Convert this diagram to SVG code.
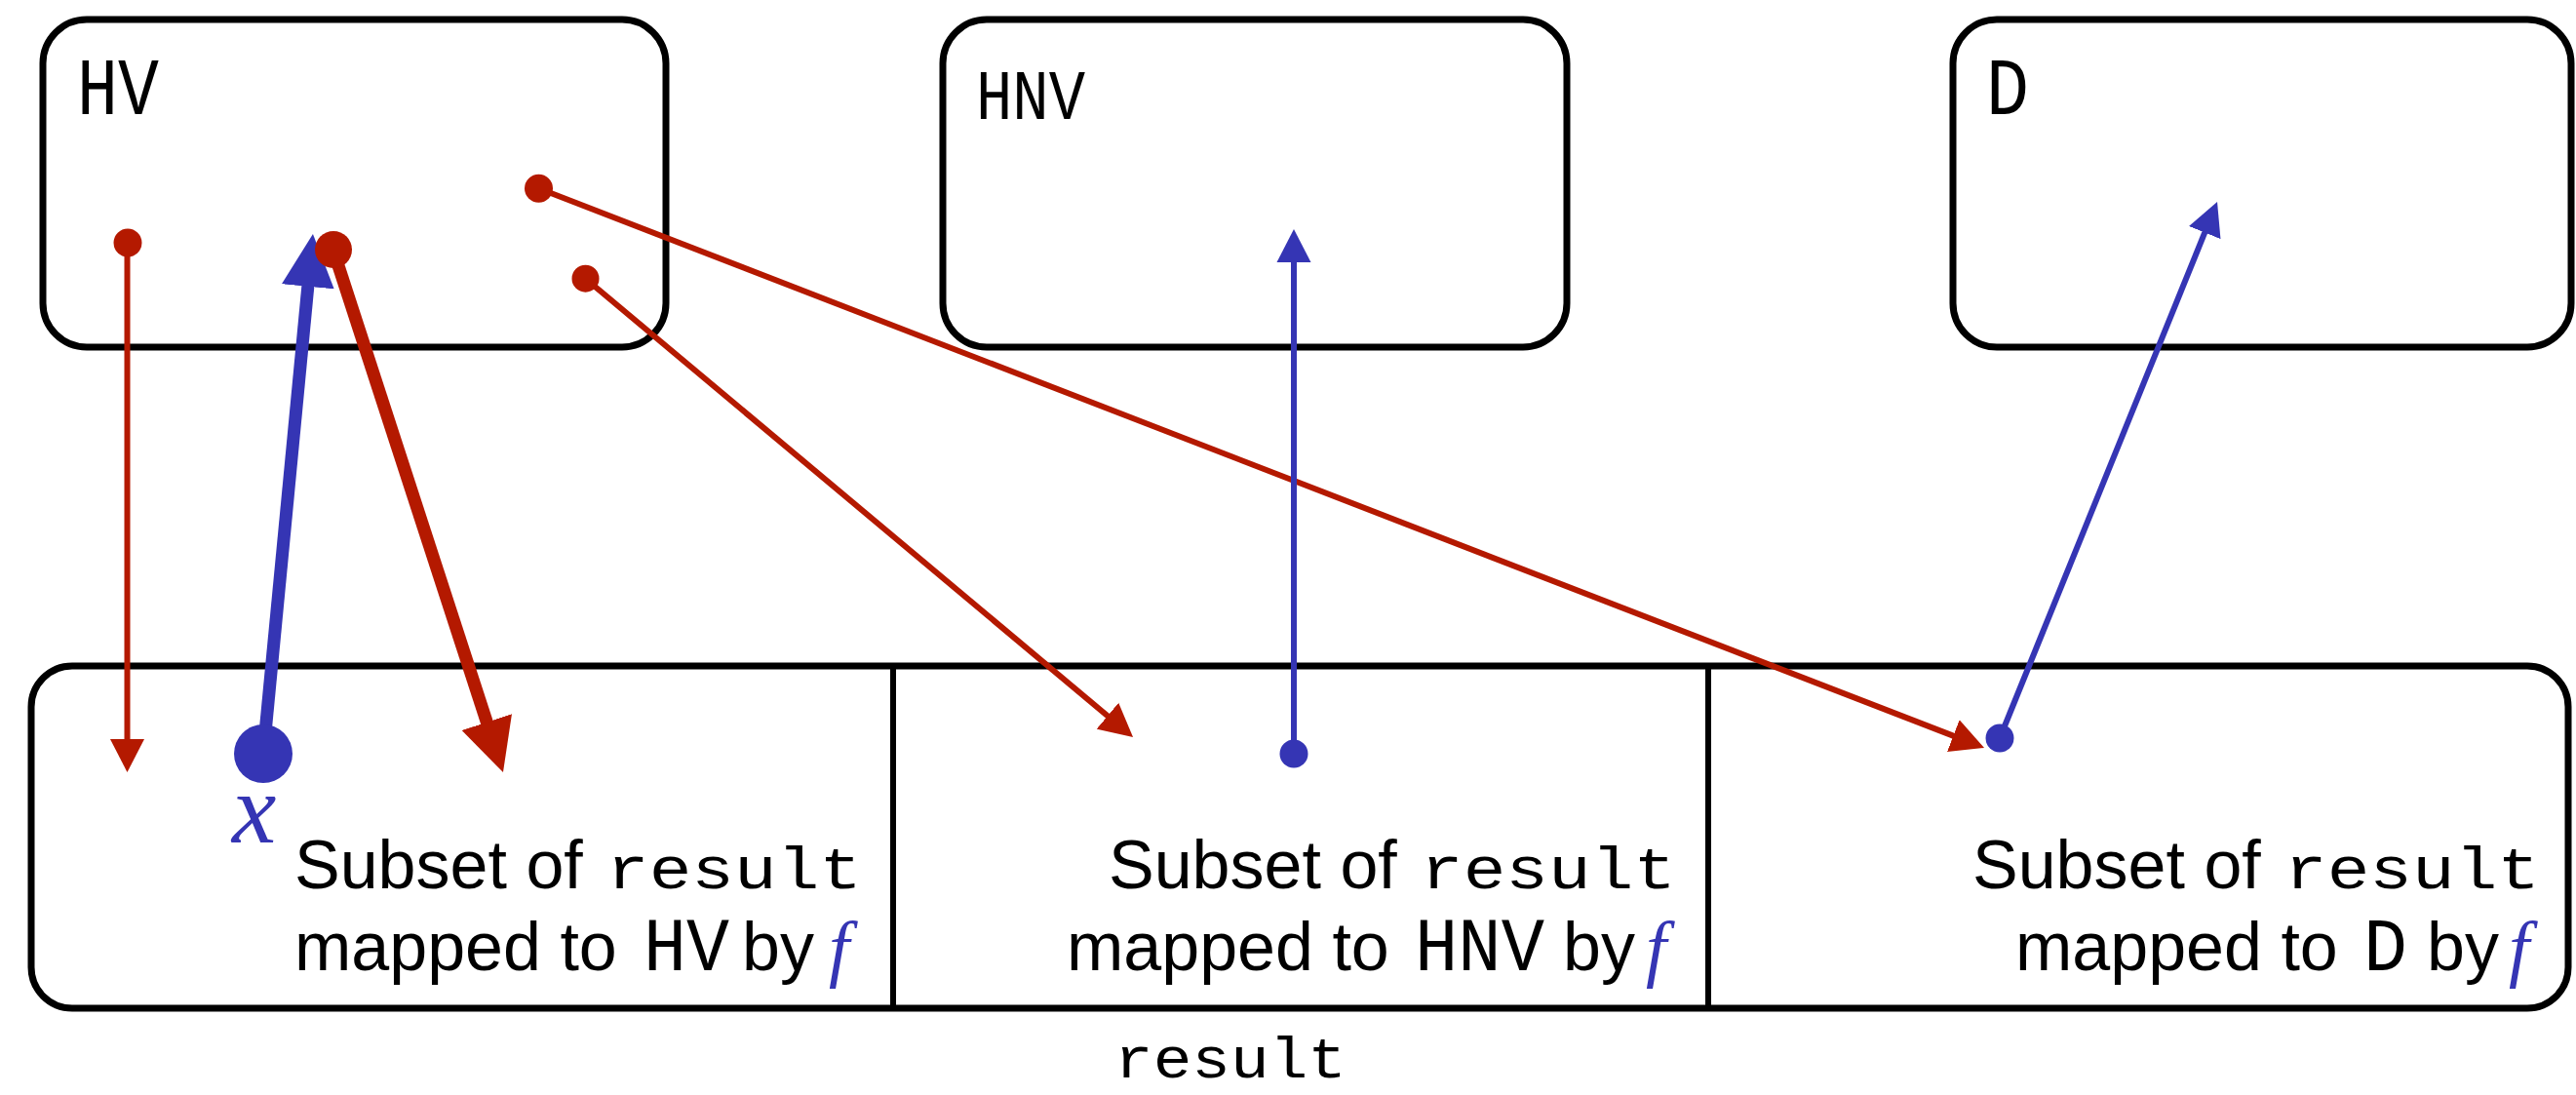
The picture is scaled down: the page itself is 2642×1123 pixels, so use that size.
<svg xmlns="http://www.w3.org/2000/svg" width="2642" height="1123" viewBox="0 0 2642 1123">
<style>
.box{fill:#fff;stroke:#000;stroke-width:7}
.div{stroke:#000;stroke-width:6}
.mono{font-family:"Liberation Mono",monospace;fill:#000}
.sans{font-family:"Liberation Sans",Arial,sans-serif;font-size:70px;fill:#000}
.math{font-family:"Liberation Serif","Times New Roman",serif;font-style:italic;fill:#3535B4}
.red{stroke:#B41900;fill:none}
.blue{stroke:#3535B4;fill:none}
.thin{stroke-width:6}
.thick{stroke-width:13}
.rdot{fill:#B41900}
.bdot{fill:#3535B4}
</style>
<defs>
<marker id="arR" markerUnits="userSpaceOnUse" viewBox="0 -18 36 36" markerWidth="36" markerHeight="36" refX="2" refY="0" orient="auto"><path d="M0,-17.5 L34,0 L0,17.5 z" fill="#B41900"/></marker>
<marker id="arB" markerUnits="userSpaceOnUse" viewBox="0 -18 36 36" markerWidth="36" markerHeight="36" refX="2" refY="0" orient="auto"><path d="M0,-17.5 L34,0 L0,17.5 z" fill="#3535B4"/></marker>
<marker id="arRT" markerUnits="userSpaceOnUse" viewBox="0 -28 56 56" markerWidth="56" markerHeight="56" refX="2" refY="0" orient="auto"><path d="M0,-27 L54,0 L0,27 z" fill="#B41900"/></marker>
<marker id="arBT" markerUnits="userSpaceOnUse" viewBox="0 -28 56 56" markerWidth="56" markerHeight="56" refX="2" refY="0" orient="auto"><path d="M0,-27 L54,0 L0,27 z" fill="#3535B4"/></marker>
</defs>

<g id="HV">
<rect class="box" x="44" y="20" width="639" height="336" rx="45"/>
<text class="mono" x="79" y="117" font-size="84" textLength="84" lengthAdjust="spacingAndGlyphs">HV</text>
</g>
<g id="HNV">
<rect class="box" x="967" y="20" width="640" height="336" rx="45"/>
<text class="mono" x="1001" y="122" font-size="73" textLength="112" lengthAdjust="spacingAndGlyphs">HNV</text>
</g>
<g id="D">
<rect class="box" x="2003" y="20" width="634" height="336" rx="45"/>
<text class="mono" x="2037" y="117" font-size="84" textLength="44" lengthAdjust="spacingAndGlyphs">D</text>
</g>

<g id="result">
<rect class="box" x="32" y="683" width="2602" height="351" rx="42"/>
<line class="div" x1="916" y1="683" x2="916" y2="1034"/>
<line class="div" x1="1752" y1="683" x2="1752" y2="1034"/>
<text class="mono" x="1143" y="1105" font-size="60" textLength="238" lengthAdjust="spacingAndGlyphs">result</text>
</g>

<g id="cellHV">
<text class="sans"><tspan x="302" y="911">Subset of</tspan><tspan class="mono" x="622" y="911" font-size="62" textLength="262" lengthAdjust="spacingAndGlyphs">result</tspan><tspan x="302" y="995">mapped to</tspan><tspan class="mono" x="660" y="995" font-size="77" textLength="88" lengthAdjust="spacingAndGlyphs">HV</tspan><tspan x="761" y="995">by</tspan><tspan class="math" x="850" y="998" font-size="76">f</tspan></text>
<text class="math" x="238" y="864" font-size="102">x</text>
</g>
<g id="cellHNV">
<text class="sans"><tspan x="1137" y="911">Subset of</tspan><tspan class="mono" x="1457" y="911" font-size="62" textLength="262" lengthAdjust="spacingAndGlyphs">result</tspan><tspan x="1094" y="995">mapped to</tspan><tspan class="mono" x="1451" y="995" font-size="77" textLength="133" lengthAdjust="spacingAndGlyphs">HNV</tspan><tspan x="1603" y="995">by</tspan><tspan class="math" x="1688" y="998" font-size="76">f</tspan></text>
</g>
<g id="cellD">
<text class="sans"><tspan x="2023" y="911">Subset of</tspan><tspan class="mono" x="2343" y="911" font-size="62" textLength="262" lengthAdjust="spacingAndGlyphs">result</tspan><tspan x="2067" y="995">mapped to</tspan><tspan class="mono" x="2424" y="995" font-size="77" textLength="45" lengthAdjust="spacingAndGlyphs">D</tspan><tspan x="2489" y="995">by</tspan><tspan class="math" x="2573" y="998" font-size="76">f</tspan></text>
</g>

<g id="connectors">
<path class="red thin" d="M130.5,249 L130.5,760" marker-end="url(#arR)"/>
<circle class="rdot" cx="131" cy="249" r="14.5"/>
<path class="blue thick" d="M270,773 L316,291.8" marker-end="url(#arBT)"/>
<circle class="bdot" cx="270" cy="773" r="30"/>
<path class="red thick" d="M342,257 L499.9,742.6" marker-end="url(#arRT)"/>
<circle class="rdot" cx="342" cy="256" r="19"/>
<path class="red thin" d="M600.5,285.7 L1137.5,735.5" marker-end="url(#arR)"/>
<circle class="rdot" cx="600.5" cy="285.7" r="14"/>
<path class="red thin" d="M552,193 L2005.2,755.4" marker-end="url(#arR)"/>
<circle class="rdot" cx="552.5" cy="193.3" r="14.5"/>
<path class="blue thin" d="M1327,773 L1327,267" marker-end="url(#arB)"/>
<circle class="bdot" cx="1327" cy="773" r="14.5"/>
<path class="blue thin" d="M2051,757 L2262,236.7" marker-end="url(#arB)"/>
<circle class="bdot" cx="2051" cy="757" r="14.5"/>
</g>
</svg>
